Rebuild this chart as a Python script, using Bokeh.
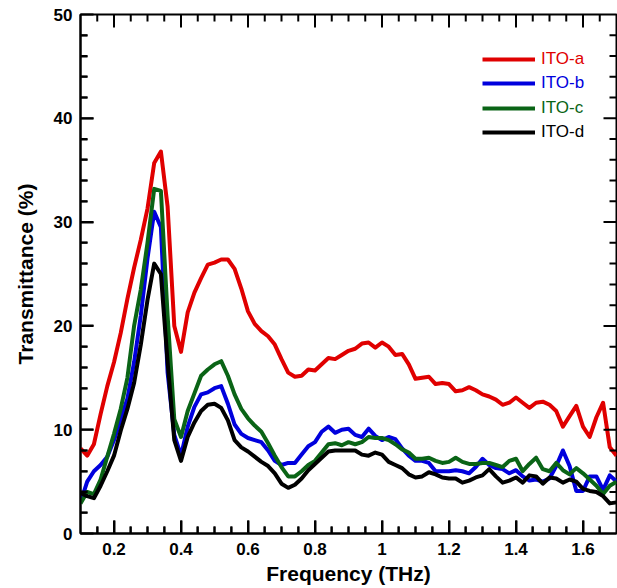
import numpy as np
from bokeh.plotting import figure
from bokeh.models import (FixedTicker, NumeralTickFormatter, Legend, LegendItem, Range1d)
from bokeh.embed import file_html
from bokeh.resources import INLINE

freq = [0.10, 0.12, 0.14, 0.16, 0.18, 0.20, 0.22, 0.24, 0.26, 0.28,
        0.30, 0.32, 0.34, 0.36, 0.38, 0.40, 0.42, 0.44, 0.46, 0.48,
        0.50, 0.52, 0.54, 0.56, 0.58, 0.60, 0.62, 0.64, 0.66, 0.68,
        0.70, 0.72, 0.74, 0.76, 0.78, 0.80, 0.82, 0.84, 0.86, 0.88,
        0.90, 0.92, 0.94, 0.96, 0.98, 1.00, 1.02, 1.04, 1.06, 1.08,
        1.10, 1.12, 1.14, 1.16, 1.18, 1.20, 1.22, 1.24, 1.26, 1.28,
        1.30, 1.32, 1.34, 1.36, 1.38, 1.40, 1.42, 1.44, 1.46, 1.48,
        1.50, 1.52, 1.54, 1.56, 1.58, 1.60, 1.62, 1.64, 1.66, 1.68, 1.70]

ito_a = [8.2, 7.5, 8.6, 11.5, 14.2, 16.5, 19.3, 22.6, 25.6, 28.3,
         31.3, 35.7, 36.8, 31.5, 20.0, 17.5, 21.3, 23.2, 24.6, 25.9,
         26.1, 26.4, 26.4, 25.5, 23.6, 21.4, 20.2, 19.5, 19.0, 18.2,
         16.8, 15.5, 15.1, 15.2, 15.8, 15.7, 16.3, 16.9, 16.8, 17.2,
         17.6, 17.8, 18.3, 18.4, 17.9, 18.4, 18.0, 17.2, 17.3, 16.3,
         14.9, 15.0, 15.1, 14.4, 14.5, 14.4, 13.7, 13.8, 14.1, 13.8,
         13.4, 13.2, 12.9, 12.4, 12.6, 13.1, 12.6, 12.1, 12.6, 12.7,
         12.4, 11.8, 10.3, 11.3, 12.3, 10.3, 9.3, 11.2, 12.6, 8.3, 7.5]

ito_b = [3.0, 5.0, 6.0, 6.6, 7.4, 9.0, 11.0, 13.0, 16.5, 21.0,
         26.5, 31.0, 29.5, 15.5, 9.5, 7.5, 10.3, 12.2, 13.4, 13.6,
         14.0, 14.2, 12.5, 10.5, 9.6, 9.2, 9.0, 8.8, 8.0, 7.0,
         6.6, 6.8, 6.8, 7.6, 8.4, 8.8, 9.8, 10.3, 9.7, 10.0,
         10.1, 9.5, 9.3, 10.1, 9.4, 9.0, 9.3, 9.1, 8.2, 7.5,
         7.0, 7.0, 6.8, 6.0, 6.0, 6.0, 6.1, 6.0, 5.8, 6.4,
         7.2, 6.6, 6.3, 6.2, 5.8, 6.1, 5.5, 5.1, 5.2, 5.0,
         5.3, 6.5, 8.0, 6.5, 4.1, 4.1, 5.5, 5.5, 4.2, 5.6, 5.0]

ito_c = [2.9, 4.0, 3.8, 5.2, 7.4, 9.6, 12.0, 15.0, 20.0, 23.5,
         28.0, 33.2, 33.0, 21.0, 11.0, 9.3, 11.8, 13.5, 15.2, 15.8,
         16.3, 16.6, 15.2, 13.4, 12.0, 11.1, 10.4, 9.8, 8.7, 7.5,
         6.4, 5.5, 5.5, 6.0, 6.6, 7.0, 7.8, 8.6, 8.7, 8.5,
         8.8, 8.6, 8.8, 9.3, 9.2, 9.2, 9.0, 8.6, 8.1, 7.8,
         7.2, 7.2, 7.3, 7.0, 6.8, 6.9, 7.3, 6.9, 6.7, 6.7,
         6.8, 6.8, 6.6, 6.4, 7.0, 7.2, 6.0, 6.7, 7.3, 6.2,
         6.0, 6.8, 6.1, 5.7, 6.3, 5.8, 5.2, 4.6, 3.8, 4.6, 5.0]

ito_d = [3.9, 3.6, 3.4, 4.6, 6.0, 7.5, 9.9, 12.0, 14.5, 18.2,
         22.5, 26.0, 25.0, 16.5, 9.0, 7.0, 9.3, 10.7, 11.8, 12.4,
         12.5, 12.1, 10.9, 9.0, 8.3, 7.9, 7.4, 6.9, 6.5, 5.8,
         4.8, 4.4, 4.7, 5.3, 6.1, 6.7, 7.3, 7.9, 8.0, 8.0,
         8.0, 8.0, 7.6, 7.5, 7.8, 7.6, 6.9, 6.6, 6.3, 5.7,
         5.4, 5.5, 5.9, 5.7, 5.4, 5.3, 5.3, 4.9, 5.1, 5.4,
         5.6, 6.2, 5.5, 4.9, 5.1, 5.4, 4.9, 5.6, 5.5, 4.8,
         5.4, 5.3, 4.9, 5.2, 5.0, 4.3, 4.1, 4.0, 3.6, 2.9, 3.0]

series_names = ["ITO-a", "ITO-b", "ITO-c", "ITO-d"]
series_colors = ["#e00000", "#0000dd", "#0a6416", "#000000"]

x_major = [0.2, 0.4, 0.6, 0.8, 1.0, 1.2, 1.4, 1.6]
x_minor = [0.15, 0.25, 0.3, 0.35, 0.45, 0.5, 0.55, 0.65, 0.7,
           0.75, 0.85, 0.9, 0.95, 1.05, 1.1, 1.15, 1.25, 1.3, 1.35,
           1.45, 1.5, 1.55, 1.65]
y_major = [10, 20, 30, 40]
y_minor = [2, 4, 6, 8, 12, 14, 16, 18, 22, 24, 26, 28, 32, 34, 36,
           38, 42, 44, 46, 48]
y_labels = [0, 10, 20, 30, 40, 50]

X_LO, X_HI, Y_LO, Y_HI = 0.1, 1.7, 0.0, 50.0
FRAME_W, FRAME_H = 536, 519
MAJ_LEN, MIN_LEN = 13, 7  # tick lengths in pixels (inside the frame)

FONT = "Liberation Sans"

p = figure(width=617, height=588, output_backend="svg", toolbar_location=None,
           x_range=Range1d(X_LO, X_HI), y_range=Range1d(Y_LO, Y_HI),
           min_border_left=80, min_border_right=1, min_border_top=14, min_border_bottom=55,
           x_axis_label="Frequency (THz)", y_axis_label="Transmittance (%)")
p.grid.visible = False
p.outline_line_color = "black"
p.outline_line_width = 2
p.background_fill_color = "white"
p.border_fill_color = "white"


def style_axis(ax):
    ax.axis_line_width = 2
    ax.axis_line_color = "black"
    ax.major_tick_in = MAJ_LEN
    ax.major_tick_out = 0
    ax.minor_tick_in = MIN_LEN
    ax.minor_tick_out = 0
    ax.major_tick_line_width = 2
    ax.minor_tick_line_width = 2
    ax.major_tick_line_color = "black"
    ax.minor_tick_line_color = "black"
    ax.major_label_text_font = FONT
    ax.major_label_text_font_style = "bold"
    ax.major_label_text_font_size = "17px"
    ax.major_label_text_color = "black"
    ax.axis_label_text_font = FONT
    ax.axis_label_text_font_style = "bold"
    ax.axis_label_text_font_size = "21px"
    ax.axis_label_text_color = "black"


xa = p.xaxis[0]
xa.ticker = FixedTicker(ticks=x_major, minor_ticks=x_minor)
xa.formatter = NumeralTickFormatter(format="0.[0]")
style_axis(xa)
xa.major_label_standoff = 9
xa.axis_label_standoff = 4

ya = p.yaxis[0]
ya.ticker = FixedTicker(ticks=y_labels, minor_ticks=y_minor)
style_axis(ya)
ya.major_label_standoff = 8
ya.axis_label_standoff = 14

all_series = [ito_a, ito_b, ito_c, ito_d]
legend_y = [464, 440, 415, 391]
for name, color, vals, ly in zip(series_names, series_colors, all_series, legend_y):
    r = p.line(freq, vals, line_color=color, line_width=4, line_join="round")
    leg = Legend(items=[LegendItem(label=name, renderers=[r])], location=(402, ly),
                 border_line_color=None, background_fill_alpha=0,
                 glyph_width=53, glyph_height=20, label_standoff=6,
                 padding=0, margin=0, spacing=0,
                 label_text_font=FONT, label_text_font_size="17px",
                 label_text_color=color)
    p.add_layout(leg)

# inward ticks on all four sides: one broken line (NaN gaps) built from the tick lists
dy_per_px = (Y_HI - Y_LO) / FRAME_H
dx_per_px = (X_HI - X_LO) / FRAME_W
tick_x, tick_y = [], []
for ticks, length in ((x_major, MAJ_LEN), (x_minor, MIN_LEN)):
    for t in ticks:
        tick_x += [t, t, np.nan, t, t, np.nan]
        tick_y += [Y_LO, Y_LO + length * dy_per_px, np.nan,
                   Y_HI, Y_HI - length * dy_per_px, np.nan]
for ticks, length in ((y_major, MAJ_LEN), (y_minor, MIN_LEN)):
    for t in ticks:
        tick_y += [t, t, np.nan, t, t, np.nan]
        tick_x += [X_LO, X_LO + length * dx_per_px, np.nan,
                   X_HI, X_HI - length * dx_per_px, np.nan]
p.line(np.array(tick_x, dtype=float), np.array(tick_y, dtype=float),
       line_color="black", line_width=2)

open("out.html", "w").write(file_html(p, INLINE))
